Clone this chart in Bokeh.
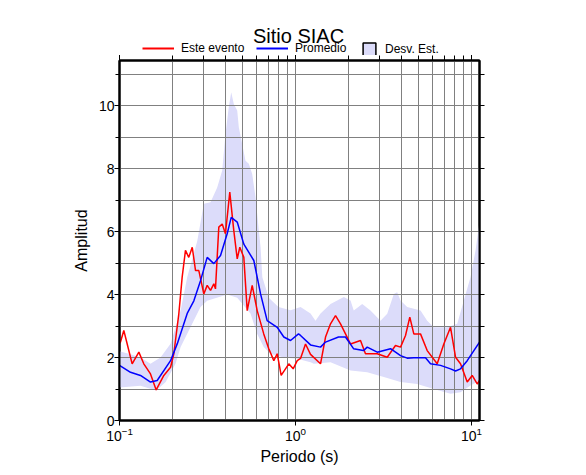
from bokeh.plotting import figure
from bokeh.layouts import column
from bokeh.models import (Range1d, LogAxis, LinearAxis, FixedTicker, SingleIntervalTicker,
                          Legend, LegendItem, Label, CustomJSTickFormatter)
from bokeh.embed import file_html
from bokeh.resources import INLINE

FONT = "Liberation Sans"

# ---- data (period in s, amplitude) ----
event_T = [0.100, 0.1013, 0.1058, 0.1106, 0.118, 0.1288, 0.1374, 0.150, 0.1616, 0.1786,
           0.195, 0.2035, 0.2173, 0.227, 0.237, 0.2475, 0.259, 0.2704, 0.2823, 0.3013,
           0.3149, 0.329, 0.3435, 0.351, 0.3666, 0.3833, 0.400, 0.4232, 0.4461, 0.4665,
           0.4826, 0.5085, 0.5316, 0.5675, 0.6058, 0.660, 0.705, 0.753, 0.787, 0.829,
           0.916, 0.970, 1.023, 1.068, 1.140, 1.217, 1.387, 1.481, 1.581, 1.688,
           1.802, 1.923, 2.054, 2.340, 2.498, 2.912, 3.320, 3.699, 3.951, 4.217,
           4.460, 4.700, 5.130, 5.599, 6.383, 6.960, 7.598, 8.114, 8.660, 9.454,
           10.09, 10.77, 11.1]
event_A = [2.45, 2.49, 2.86, 2.43, 1.80, 2.17, 1.80, 1.48, 0.97, 1.43,
           1.69, 2.12, 3.39, 4.55, 5.40, 5.18, 5.50, 4.76, 4.76, 4.02,
           4.29, 4.13, 4.34, 4.18, 6.14, 6.24, 5.93, 7.25, 6.03, 5.13,
           5.50, 5.18, 3.49, 4.29, 3.49, 2.75, 2.28, 1.90, 2.12, 1.43,
           1.80, 1.64, 1.90, 1.97, 2.43, 2.10, 1.80, 2.65, 3.07, 3.33,
           3.07, 2.75, 2.43, 2.54, 2.12, 2.12, 2.01, 2.38, 2.33, 2.70,
           3.28, 2.75, 2.75, 2.22, 1.80, 2.43, 2.96, 2.01, 1.80, 1.22,
           1.43, 1.16, 1.27]

mean_T = [0.100, 0.1155, 0.1316, 0.150, 0.1637, 0.195, 0.213, 0.2425, 0.2645, 0.2886,
          0.3149, 0.3435, 0.375, 0.409, 0.4313, 0.4665, 0.5085, 0.5796, 0.633, 0.690,
          0.787, 0.858, 0.937, 1.040, 1.068, 1.217, 1.387, 1.481, 1.755, 1.923,
          2.136, 2.434, 2.555, 2.912, 3.466, 3.951, 4.311, 4.700, 5.479, 5.848,
          6.668, 7.598, 8.114, 8.660, 9.454, 11.1]
mean_A = [1.75, 1.53, 1.43, 1.22, 1.27, 1.90, 2.44, 3.40, 3.80, 4.44,
          5.18, 4.98, 5.24, 5.93, 6.45, 6.30, 5.60, 5.08, 4.02, 3.17,
          2.96, 2.65, 2.54, 2.75, 2.70, 2.40, 2.33, 2.49, 2.65, 2.65,
          2.28, 2.22, 2.33, 2.17, 2.28, 2.06, 1.98, 1.99, 1.99, 1.80,
          1.75, 1.64, 1.57, 1.64, 1.90, 2.49]

upper_T = [0.100, 0.1155, 0.1316, 0.150, 0.171, 0.195, 0.2225, 0.2425, 0.2766, 0.3013,
           0.329, 0.359, 0.3833, 0.400, 0.4178, 0.4313, 0.4461, 0.4665, 0.4763, 0.4977,
           0.5198, 0.543, 0.5675, 0.5926, 0.633, 0.648, 0.705, 0.80, 0.937, 1.068,
           1.217, 1.299, 1.387, 1.581, 1.881, 2.054, 2.143, 2.393, 2.667, 3.040,
           3.320, 3.619, 3.781, 3.951, 4.311, 5.130, 5.599, 6.105, 7.278, 8.298,
           9.041, 9.868, 10.54, 11.0, 11.1]
upper_A = [2.20, 2.10, 2.00, 1.80, 2.00, 2.44, 3.49, 4.55, 5.70, 6.88,
           6.93, 7.40, 7.94, 9.10, 9.95, 10.42, 10.05, 9.84, 9.31, 8.78,
           8.25, 8.15, 7.83, 7.09, 5.50, 4.55, 3.90, 3.60, 3.50, 3.60,
           3.40, 3.17, 3.40, 3.70, 3.92, 3.81, 3.49, 3.70, 3.49, 3.17,
           3.39, 4.02, 4.07, 3.81, 3.60, 3.49, 3.17, 2.96, 2.96, 3.07,
           3.81, 4.55, 5.40, 6.14, 6.35]

lower_T = [0.100, 0.1316, 0.1616, 0.183, 0.208, 0.2225, 0.253, 0.2886, 0.3149, 0.409,
           0.4665, 0.5548, 0.6058, 0.660, 0.721, 0.858, 1.023, 1.217, 1.270, 1.581,
           2.054, 2.555, 3.175, 3.951, 4.914, 6.105, 7.598, 8.660, 9.868, 11.1]
lower_A = [1.05, 1.10, 0.95, 1.22, 1.80, 2.33, 2.96, 3.60, 3.80, 4.00,
           3.90, 3.40, 2.75, 2.33, 2.12, 2.00, 1.96, 1.85, 1.80, 1.85,
           1.59, 1.53, 1.38, 1.22, 1.16, 1.00, 0.85, 0.90, 1.11, 1.27]

legend_labels = ["Este evento", "Promedio", "Desv. Est."]
title_text = "Sitio SIAC"

RED, BLUE, BAND = "#ff0000", "#0000ff", "#dcdcfa"

x_major = [0.1, 1.0, 10.0]
x_all = [k * 10.0 ** d for d in (-1, 0) for k in range(1, 10)] + [10.0]
x_minor = [t for t in x_all if t not in x_major]

HEADER_H = 55

# ---------- header: title + legend (its frame is aligned with the main frame) ----------
h = figure(width=578, height=HEADER_H, x_range=Range1d(0, 1), y_range=Range1d(0, 1),
           output_backend="svg", toolbar_location=None,
           min_border_left=119, min_border_right=99, min_border_top=0, min_border_bottom=0)
h.axis.visible = False
h.grid.visible = False
h.outline_line_color = None
h.background_fill_color = "white"
h.border_fill_color = "white"
# legend-only renderers: their data lies outside the header's ranges, so they draw nothing
hr_red = h.line(x=[5, 6], y=[5, 5], line_color=RED, line_width=2)
hr_blue = h.line(x=[5, 6], y=[5, 5], line_color=BLUE, line_width=2)
hr_box = h.quad(left=[5], right=[6], bottom=[5], top=[6], fill_color=BAND,
                line_color="black", line_width=1.5)

def mk_legend(label, rend, x, y, gw, gh, standoff):
    return Legend(items=[LegendItem(label=label, renderers=[rend])],
                  orientation="horizontal", location=(x, y), glyph_width=gw,
                  glyph_height=gh, label_height=gh, label_standoff=standoff, spacing=0,
                  padding=0, margin=0, border_line_color=None, background_fill_alpha=0,
                  label_text_font=FONT, label_text_font_size="12px",
                  label_text_color="black")

h.add_layout(mk_legend(legend_labels[0], hr_red, 142 - 119, 0, 32, 12, 7))
h.add_layout(mk_legend(legend_labels[1], hr_blue, 256 - 119, 0, 32, 12, 7))
h.add_layout(mk_legend(legend_labels[2], hr_box, 361 - 119, -2, 16, 16, 8))
h.add_layout(Label(x=298 - 119, y=20, x_units="screen", y_units="screen", text=title_text,
                   text_font=FONT, text_font_size="20px", text_align="center",
                   text_baseline="middle", text_color="black"))

# ---------- main plot ----------
p = figure(frame_width=360, frame_height=360, x_axis_type="log",
           x_range=Range1d(0.1, 11.1), y_range=Range1d(0, 11.43),
           output_backend="svg", toolbar_location=None,
           min_border_left=119, min_border_right=99, min_border_top=0, min_border_bottom=46)
p.background_fill_color = "white"
p.border_fill_color = "white"
p.outline_line_color = "black"
p.outline_line_width = 2

p.xgrid.ticker = FixedTicker(ticks=x_all)
p.ygrid.ticker = SingleIntervalTicker(interval=1)
for g in (p.xgrid[0], p.ygrid[0]):
    g.grid_line_color = "#808080"
    g.grid_line_width = 1

band_x = upper_T + lower_T[::-1]
band_y = upper_A + lower_A[::-1]
p.patch(band_x, band_y, fill_color=BAND, line_color=None, level="image")

p.line(event_T, event_A, line_color=RED, line_width=1.5)
p.line(mean_T, mean_A, line_color=BLUE, line_width=1.5)

xa = p.xaxis[0]
xa.ticker = FixedTicker(ticks=x_major)
xa.axis_label = "Periodo (s)"
ya = p.yaxis[0]
ya.ticker = SingleIntervalTicker(interval=2, num_minor_ticks=2)
ya.axis_label = "Amplitud"
for ax in (xa, ya):
    ax.axis_line_width = 2
    ax.axis_line_color = "black"
    ax.major_tick_in = 0
    ax.minor_tick_in = 0
    ax.major_tick_line_color = "black"
    ax.minor_tick_line_color = "black"
    ax.major_label_text_font = FONT
    ax.major_label_text_font_size = "14px"
    ax.major_label_text_color = "black"
    ax.axis_label_text_font = FONT
    ax.axis_label_text_font_size = "16px"
    ax.axis_label_text_font_style = "normal"
    ax.axis_label_text_color = "black"
xa.major_tick_out = 5
xa.minor_tick_out = 0
xa.major_label_standoff = 1
xa.axis_label_standoff = 4
ya.major_tick_out = 5
ya.minor_tick_out = 4
ya.major_label_standoff = 0
ya.axis_label_standoff = 6

top = LogAxis(ticker=FixedTicker(ticks=x_major, minor_ticks=x_minor),
              formatter=CustomJSTickFormatter(code="return ' ';"),
              major_label_text_font_size="1px", major_label_standoff=-5,
              axis_line_width=2, major_tick_in=0, minor_tick_in=0,
              major_tick_out=6, minor_tick_out=5)
p.add_layout(top, "above")
right = LinearAxis(ticker=SingleIntervalTicker(interval=1, num_minor_ticks=0),
                   formatter=CustomJSTickFormatter(code="return ' ';"),
                   major_label_text_font_size="1px", major_label_standoff=0,
                   axis_line_width=2, major_tick_in=0, minor_tick_in=0,
                   major_tick_out=5, minor_tick_out=0)
p.add_layout(right, "right")

layout = column(h, p, spacing=0)
open("out.html", "w").write(file_html(layout, INLINE))
